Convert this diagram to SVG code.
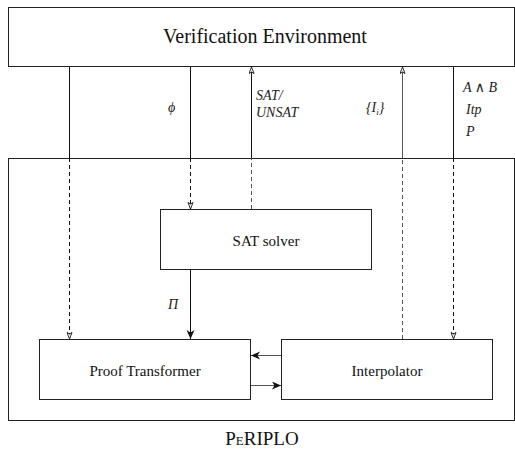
<svg xmlns="http://www.w3.org/2000/svg" width="515" height="452" viewBox="0 0 515 452">
<style>
.box{fill:#fff;stroke:#222;stroke-width:1}
.ln{stroke:#111;stroke-width:1;fill:none}
.gr{stroke:#555}
.ds{stroke-dasharray:4 3}
.t{font-family:'Liberation Serif','DejaVu Serif',Times,serif;fill:#111;text-anchor:middle}
.m{font-family:'Liberation Serif','DejaVu Serif',Times,serif;font-style:italic;fill:#222;font-size:14px}
</style>
<defs>
<marker id="open" markerWidth="8" markerHeight="10" refX="7" refY="3" orient="auto" markerUnits="userSpaceOnUse">
<path d="M0.5,0.5 L7,3 L0.5,5.5 L2,3 Z" fill="#fff" stroke="#111" stroke-width="0.9"/>
</marker>
<marker id="fill" markerWidth="10" markerHeight="10" refX="9" refY="4" orient="auto" markerUnits="userSpaceOnUse">
<path d="M0,0 L9,4 L0,8 L2.5,4 Z" fill="#111"/>
</marker>
</defs>
<g id="env">
<rect class="box" x="8.5" y="7.5" width="506" height="59"/>
<text class="t" x="265" y="43" font-size="20" font-family="Liberation Serif, serif">Verification Environment</text>
</g>
<g id="periplo">
<rect class="box" x="8.5" y="158.5" width="506" height="262" fill="none"/>
<text class="t" x="262" y="445" font-size="19" font-variant="small-caps">PeRIPLO</text>
</g>
<g id="sat">
<rect class="box" x="160.5" y="209.5" width="211" height="60"/>
<text class="t" x="266" y="246" font-size="15">SAT solver</text>
</g>
<g id="proof">
<rect class="box" x="39.5" y="339.5" width="211" height="60"/>
<text class="t" x="145" y="376" font-size="15">Proof Transformer</text>
</g>
<g id="interp">
<rect class="box" x="281.5" y="339.5" width="211" height="60"/>
<text class="t" x="387" y="376" font-size="15">Interpolator</text>
</g>
<g id="connectors">
<line class="ln" x1="69.5" y1="67" x2="69.5" y2="158"/>
<line class="ln ds" x1="69.5" y1="158" x2="69.5" y2="339" marker-end="url(#open)"/>
<line class="ln" x1="190.5" y1="67" x2="190.5" y2="158"/>
<line class="ln ds" x1="190.5" y1="158" x2="190.5" y2="209" marker-end="url(#open)"/>
<line class="ln gr ds" x1="251.5" y1="209" x2="251.5" y2="158"/>
<line class="ln" x1="251.5" y1="158" x2="251.5" y2="67" marker-end="url(#open)"/>
<line class="ln gr ds" x1="402.5" y1="339" x2="402.5" y2="158"/>
<line class="ln gr" x1="402.5" y1="158" x2="402.5" y2="67" marker-end="url(#open)"/>
<line class="ln" x1="453.5" y1="67" x2="453.5" y2="158"/>
<line class="ln ds" x1="453.5" y1="158" x2="453.5" y2="339" marker-end="url(#open)"/>
<line class="ln" x1="190.5" y1="270" x2="190.5" y2="339" marker-end="url(#fill)"/>
<line class="ln gr" x1="281" y1="355.5" x2="251" y2="355.5" marker-end="url(#fill)"/>
<line class="ln gr" x1="251" y1="385.5" x2="281" y2="385.5" marker-end="url(#fill)"/>
<text class="m" x="168" y="112">ϕ</text>
<text class="m" x="256" y="100">SAT/</text>
<text class="m" x="256" y="117">UNSAT</text>
<text class="m" x="366" y="112">{I<tspan font-size="9" dy="3">i</tspan><tspan dy="-3">}</tspan></text>
<text class="m" x="463" y="92">A <tspan font-style="normal">∧</tspan> B</text>
<text class="m" x="466" y="114">Itp</text>
<text class="m" x="466" y="136">P</text>
<text class="m" x="168" y="309">Π</text>
</g>
</svg>
